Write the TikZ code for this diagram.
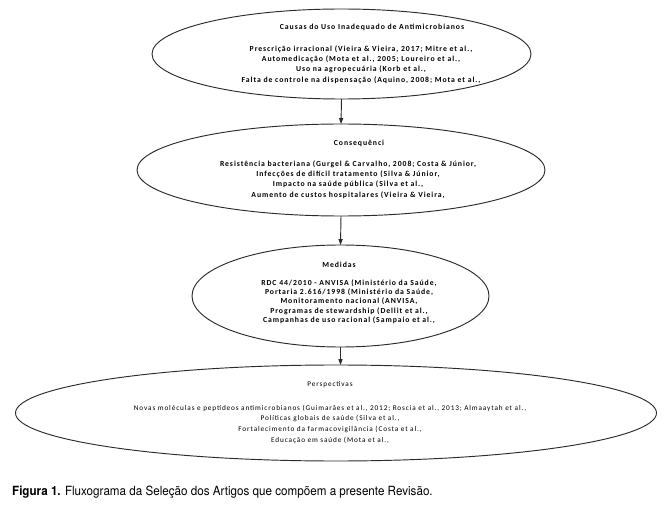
\documentclass[tikz,border=0pt]{standalone}
\usepackage{fontspec}
\usetikzlibrary{arrows.meta,positioning,shapes.geometric,calc}
\newfontfamily\boxfont[LetterSpace=12]{Carlito}
\newfontfamily\capfont[FakeStretch=0.92]{TeX Gyre Heros}
\definecolor{outline}{HTML}{2B2B2B}

\begin{document}
\begin{tikzpicture}[x=0.03cm,y=-0.03cm,
  ell/.style={draw=outline,ellipse,line width=0.8pt,inner sep=0pt,outer sep=0pt},
  head/.style={font=\boxfont\bfseries\fontsize{6.6}{8}\selectfont},
  body/.style={font=\boxfont\bfseries\fontsize{6.6}{8.8}\selectfont,align=center},
  link/.style={draw=outline,line width=0.8pt,-{Triangle[length=5pt,width=3.5pt]}},
]
  \useasboundingbox (0,0) rectangle (667,508);

  % ellipses
  \node[ell,minimum width=11.37cm,minimum height=2.7cm] (causas) at (341.5,54) {};
  \node[ell,minimum width=12.24cm,minimum height=2.76cm] (consequencias) at (341,170) {};
  \node[ell,minimum width=8.91cm,minimum height=3.06cm] (medidas) at (340.5,296) {};
  \node[ell,minimum width=19.23cm,minimum height=2.88cm] (perspectivas) at (336,413) {};

  % texts
  \node[head] (causas-t) at (372,27) {Causas do Uso Inadequado de Antimicrobianos};
  \node[body] (causas-b) at (361,64.5) {Prescrição irracional (Vieira \& Vieira, 2017; Mitre et al.,\\
    Automedicação (Mota et al., 2005; Loureiro et al.,\\
    Uso na agropecuária (Korb et al.,\\
    Falta de controle na dispensação (Aquino, 2008; Mota et al.,};

  \node[head] (consequencias-t) at (359,143) {Consequênci};
  \node[body] (consequencias-b) at (348,179.5) {Resistência bacteriana (Gurgel \& Carvalho, 2008; Costa \& Júnior,\\
    Infecções de difícil tratamento (Silva \& Júnior,\\
    Impacto na saúde pública (Silva et al.,\\
    Aumento de custos hospitalares (Vieira \& Vieira,};

  \node[head] (medidas-t) at (339,265) {Medidas};
  \node[body,font=\boxfont\bfseries\fontsize{6.6}{7.9}\selectfont] (medidas-b) at (349,301.5) {RDC 44/2010 - ANVISA (Ministério da Saúde,\\
    Portaria 2.616/1998 (Ministério da Saúde,\\
    Monitoramento nacional (ANVISA,\\
    Programas de stewardship (Dellit et al.,\\
    Campanhas de uso racional (Sampaio et al.,};

  \node[head,font=\boxfont\fontsize{6.2}{8}\selectfont] (perspectivas-t) at (330,385) {Perspectivas};
  \node[body,font=\boxfont\fontsize{6.2}{9.1}\selectfont] (perspectivas-b) at (330,424) {Novas moléculas e peptídeos antimicrobianos (Guimarães et al., 2012; Roscia et al., 2013; Almaaytah et al.,\\
    Políticas globais de saúde (Silva et al.,\\
    Fortalecimento da farmacovigilância (Costa et al.,\\
    Educação em saúde (Mota et al.,};

  % connectors
  \draw[link] (causas.south) -- (consequencias.north);
  \draw[link] (consequencias.south) -- (medidas.north);
  \draw[link] (medidas.south) -- (medidas.south |- perspectivas.north);

  \node[anchor=west,font=\capfont\fontsize{10.8}{12}\selectfont] (legenda) at (8,492) {\textbf{Figura 1.} Fluxograma da Seleção dos Artigos que compõem a presente Revisão.};
\end{tikzpicture}
\end{document}
